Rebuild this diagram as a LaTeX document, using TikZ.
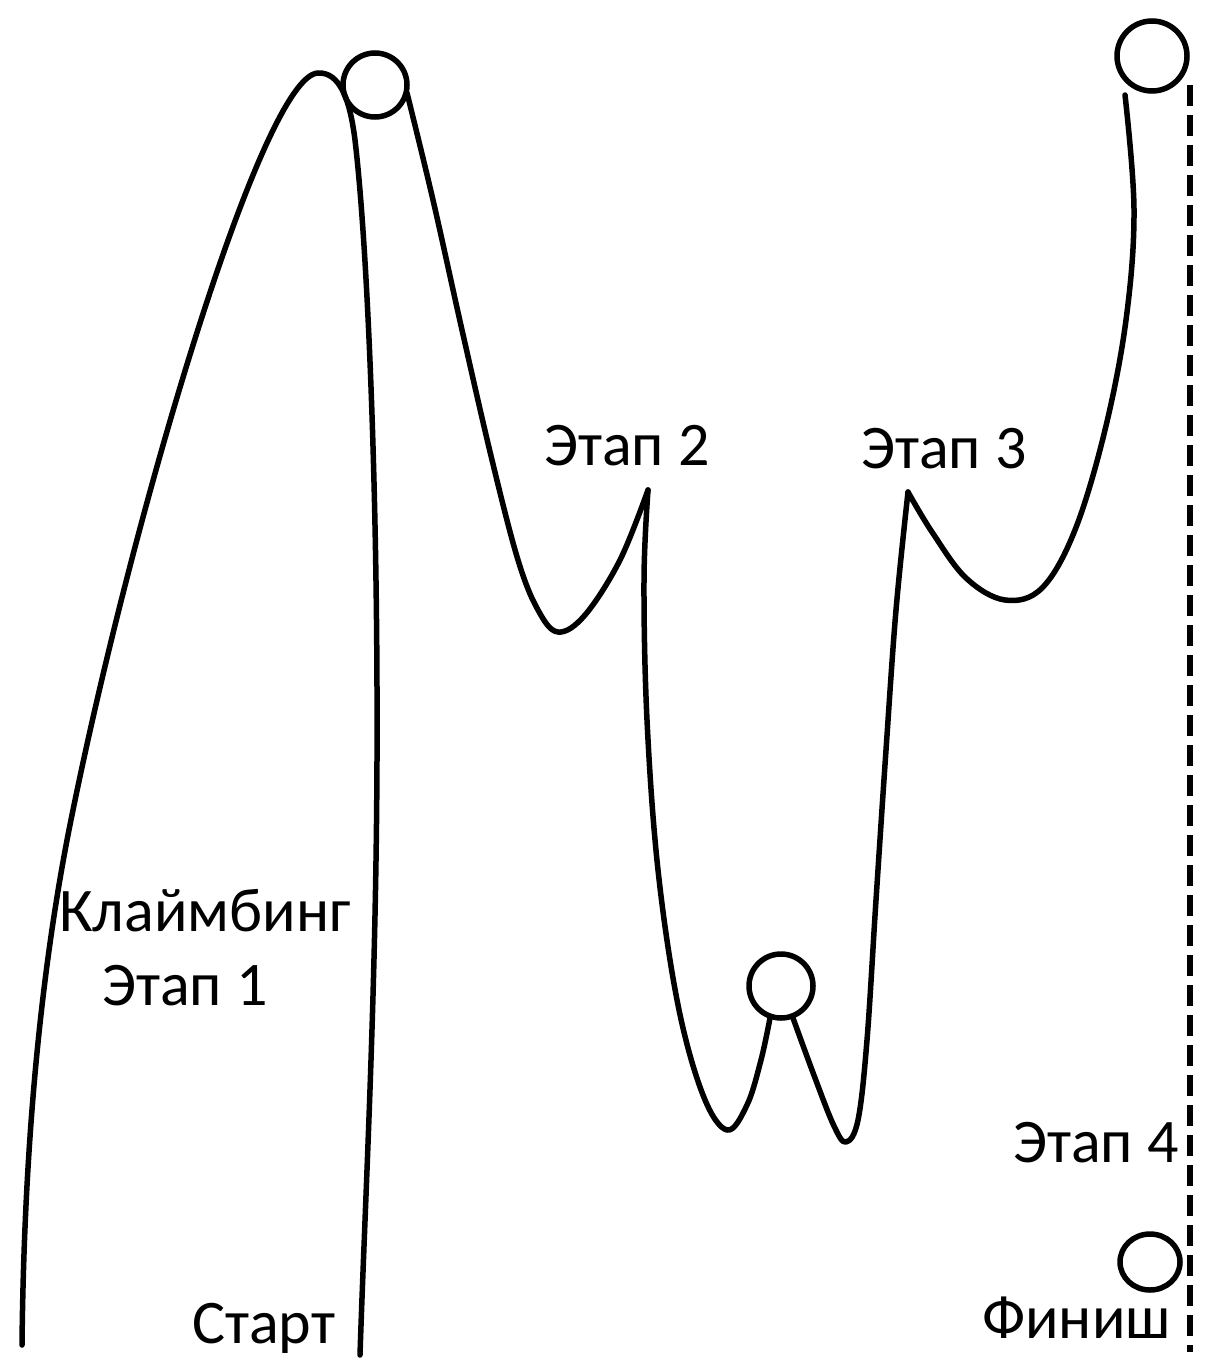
\documentclass[tikz,border=0pt]{standalone}
\usepackage{fontspec}
\setmainfont{Carlito}
\begin{document}
\begin{tikzpicture}[x=1pt,y=-1pt,
  curve/.style={line width=5.5pt, line cap=round, line join=round},
  ball/.style={line width=5.5pt},
  dashline/.style={line width=6pt, dash pattern=on 21pt off 9pt},
  lbl/.style={font=\fontsize{62}{74}\selectfont, inner sep=0pt, anchor=base west}]
\useasboundingbox (0,0) rectangle (1216,1372);
% left mountain
\draw[curve] (22,1345) .. controls (24,1150) and (40,980) .. (68,835)
  .. controls (128,530) and (262,75) .. (318,73)
  .. controls (340,72) and (350,100) .. (355,140)
  .. controls (368,250) and (378,500) .. (377,760)
  .. controls (376,1000) and (365,1200) .. (360,1355);
% circle 1
\draw[ball] (375,85) circle (32);
% descent to stage 2
\draw[curve] plot[smooth, tension=0.6] coordinates {(407,93) (433,200) (462,330) (492,460) (518,560) (538,610) (558,632) (585,615) (620,560) (648,490)};
% stage 2 down to the valley
\draw[curve] plot[smooth, tension=0.6] coordinates {(648,490) (644,580) (647,720) (658,870) (678,1005) (703,1095) (727,1130) (747,1105) (761,1060) (770,1018)};
% circle 2
\draw[ball] (781,986) circle (32);
% valley up to stage 3
\draw[curve] plot[smooth, tension=0.6] coordinates {(793,1018) (815,1078) (834,1126) (846,1142) (858,1120) (867,1040) (876,900) (886,750) (896,610) (908,492)};
% stage 3 to the end
\draw[curve] plot[smooth, tension=0.6] coordinates {(908,492) (932,532) (966,578) (1005,600) (1042,588) (1075,530) (1105,430) (1126,320) (1134,210) (1125,95)};
% circle 3
\draw[ball] (1152,56) circle (35);
% dashed line
\draw[dashline] (1190,85) -- (1190,1352);
% circle 4
\draw[ball] (1150,1262) ellipse [x radius=30, y radius=28];
% labels
\node[lbl] (klim) at (59,931) {Клаймбинг};
\node[lbl] (et1) at (102,1005) {Этап 1};
\node[lbl] (start) at (192,1343) {Старт};
\node[lbl] (et2) at (544,465) {Этап 2};
\node[lbl] (et3) at (861,468) {Этап 3};
\node[lbl] (et4) at (1013,1162) {Этап 4};
\node[lbl] (fin) at (982,1338) {Финиш};
\end{tikzpicture}
\end{document}
